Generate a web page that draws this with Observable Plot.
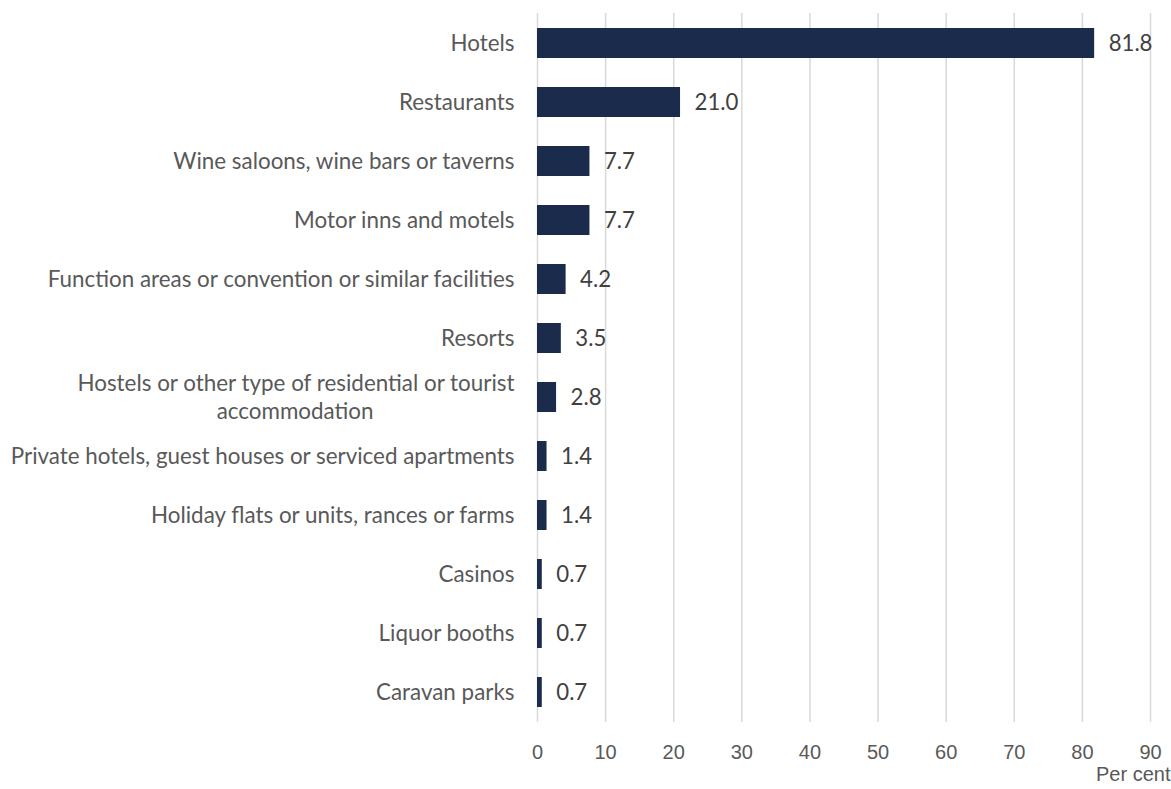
<!DOCTYPE html>
<html>
<head>
<meta charset="utf-8">
<script src="https://cdn.jsdelivr.net/npm/d3@7"></script>
<script src="https://cdn.jsdelivr.net/npm/@observablehq/plot@0.6"></script>
<style>
  html, body { margin: 0; padding: 0; background: #ffffff; }
  #chart svg { display: block; }
</style>
</head>
<body>
<div id="chart"></div>
<script>
const categories = [
  "Hotels",
  "Restaurants",
  "Wine saloons, wine bars or taverns",
  "Motor inns and motels",
  "Function areas or convention or similar facilities",
  "Resorts",
  "Hostels or other type of residential or tourist accommodation",
  "Private hotels, guest houses or serviced apartments",
  "Holiday flats or units, rances or farms",
  "Casinos",
  "Liquor booths",
  "Caravan parks"
];
const values = [81.8, 21.0, 7.7, 7.7, 4.2, 3.5, 2.8, 1.4, 1.4, 0.7, 0.7, 0.7];
const xTicks = [0, 10, 20, 30, 40, 50, 60, 70, 80, 90];
const xLabel = "Per cent";
const wrapped = {
  category: "Hostels or other type of residential or tourist accommodation",
  lines: ["Hostels or other type of residential or tourist", "accommodation"]
};

const data = categories.map((c, i) => ({category: c, value: values[i]}));

const labelFont = "Lato, Carlito, Calibri, sans-serif";
const labelSize = 22.4;
const axisFont = "'Liberation Sans', Arial, sans-serif";
const axisSize = 20;
const labelPad = 23;

// measure first wrapped line for centering the second line under it
const ctx = document.createElement("canvas").getContext("2d");
ctx.font = `${labelSize}px ${labelFont}`;
const w1 = ctx.measureText(wrapped.lines[0]).width;

const chart = Plot.plot({
  width: 1171,
  height: 789,
  marginLeft: 537,
  marginRight: 21,
  marginTop: 13,
  marginBottom: 67,
  style: {background: "#ffffff", overflow: "visible"},
  x: {domain: [0, 90]},
  y: {domain: categories, paddingInner: 0.5, paddingOuter: 0.25},
  marks: [
    Plot.gridX(xTicks, {stroke: "#d9d9d9", strokeOpacity: 1, strokeWidth: 1.5}),
    Plot.barX(data, {y: "category", x: "value", fill: "#1b2b4b"}),
    Plot.text(data, {
      y: "category", x: "value", text: d => d.value.toFixed(1),
      textAnchor: "start", dx: 14, fill: "#404040",
      fontFamily: labelFont, fontSize: 22.2
    }),
    Plot.axisY({
      tickSize: 0, tickPadding: labelPad, label: null,
      tickFormat: d => d === wrapped.category ? "" : d,
      fontFamily: labelFont, fontSize: labelSize, color: "#595959"
    }),
    Plot.text([wrapped.category], {
      y: d => d, text: () => wrapped.lines[0], frameAnchor: "left",
      textAnchor: "end", dx: -labelPad, dy: -14,
      fontFamily: labelFont, fontSize: labelSize, fill: "#595959"
    }),
    Plot.text([wrapped.category], {
      y: d => d, text: () => wrapped.lines[1], frameAnchor: "left",
      textAnchor: "middle", dx: -labelPad - w1 / 2, dy: 14,
      fontFamily: labelFont, fontSize: labelSize, fill: "#595959"
    }),
    Plot.axisX(xTicks, {
      tickSize: 0, tickPadding: 22, label: null,
      fontFamily: axisFont, fontSize: axisSize, color: "#595959"
    }),
    Plot.text([xLabel], {
      text: d => d, frameAnchor: "bottom-right", textAnchor: "end",
      dx: 20, dy: 58, fontFamily: axisFont, fontSize: axisSize, fill: "#595959"
    })
  ]
});
document.getElementById("chart").appendChild(chart);
</script>
</body>
</html>
